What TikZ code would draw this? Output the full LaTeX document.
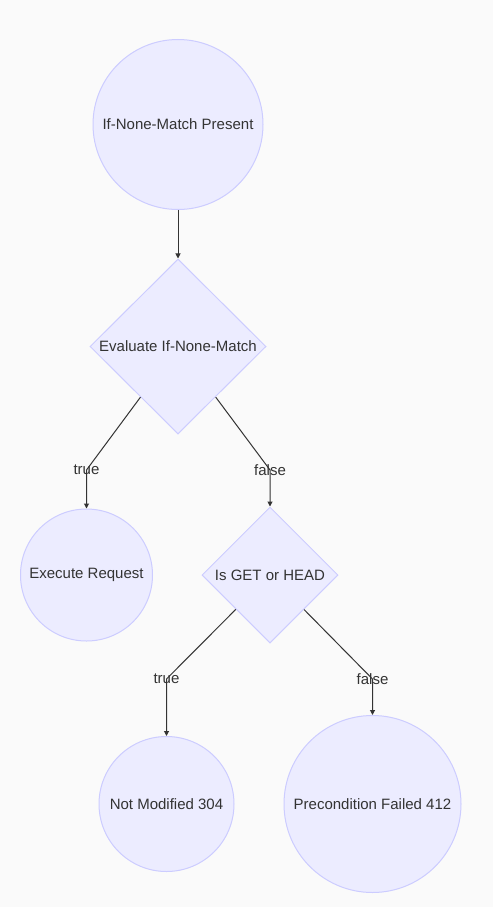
\documentclass[tikz,border=0pt]{standalone}
\usepackage{fontspec}
\setmainfont{Liberation Sans}
\usetikzlibrary{shapes.geometric,arrows.meta}
\definecolor{bgc}{HTML}{FAFAFA}
\definecolor{nodefill}{HTML}{ECECFF}
\definecolor{nodeline}{HTML}{CCCCFF}
\definecolor{txt}{HTML}{333333}
\tikzset{
  circnode/.style={circle,draw=nodeline,fill=nodefill,line width=1pt,inner sep=0pt,text=txt,font=\fontsize{15}{18}\selectfont},
  decision/.style={diamond,draw=nodeline,fill=nodefill,line width=1pt,inner sep=0pt,aspect=1},
  dectext/.style={text=txt,font=\fontsize{15}{18}\selectfont,inner sep=0pt},
  edgelbl/.style={text=txt,font=\fontsize{15}{18}\selectfont,inner sep=0pt},
  conn/.style={draw=txt,line width=1pt,-{Triangle[length=5pt,width=5pt]}}
}
\begin{document}
\begin{tikzpicture}[x=1pt,y=-1pt]
\fill[bgc] (0,0) rectangle (493,907);
\useasboundingbox (0,0) rectangle (493,907);
\node[circnode,minimum size=170pt] (n1) at (178,124.5) {If-None-Match Present};
\node[decision,minimum width=176pt,minimum height=175pt] (d1) at (178,346.5) {};
\node[dectext] (d1t) at (d1) {Evaluate If-None-Match};
\node[circnode,minimum size=132pt] (n2) at (86.5,575) {Execute Request};
\node[decision,minimum width=136pt,minimum height=136pt] (d2) at (270,575) {};
\node[dectext] (d2t) at (d2) {Is GET or HEAD};
\node[circnode,minimum size=135pt] (n3) at (166.5,804) {Not Modified 304};
\node[circnode,minimum size=177pt] (n4) at (372.5,804) {Precondition Failed 412};
\coordinate (c1) at (86.5,470);
\coordinate (c2) at (270,470);
\coordinate (c3) at (166.5,679);
\coordinate (c4) at (372.5,679);
\draw[conn] (n1) -- (d1);
\draw[conn] (d1) -- (c1) -- (n2);
\draw[conn] (d1) -- (c2) -- (d2);
\draw[conn] (d2) -- (c3) -- (n3);
\draw[conn] (d2) -- (c4) -- (n4);
\node[edgelbl] (l1) at (c1) {true};
\node[edgelbl] (l2) at (c2) {false};
\node[edgelbl] (l3) at (c3) {true};
\node[edgelbl] (l4) at (c4) {false};
\end{tikzpicture}
\end{document}
